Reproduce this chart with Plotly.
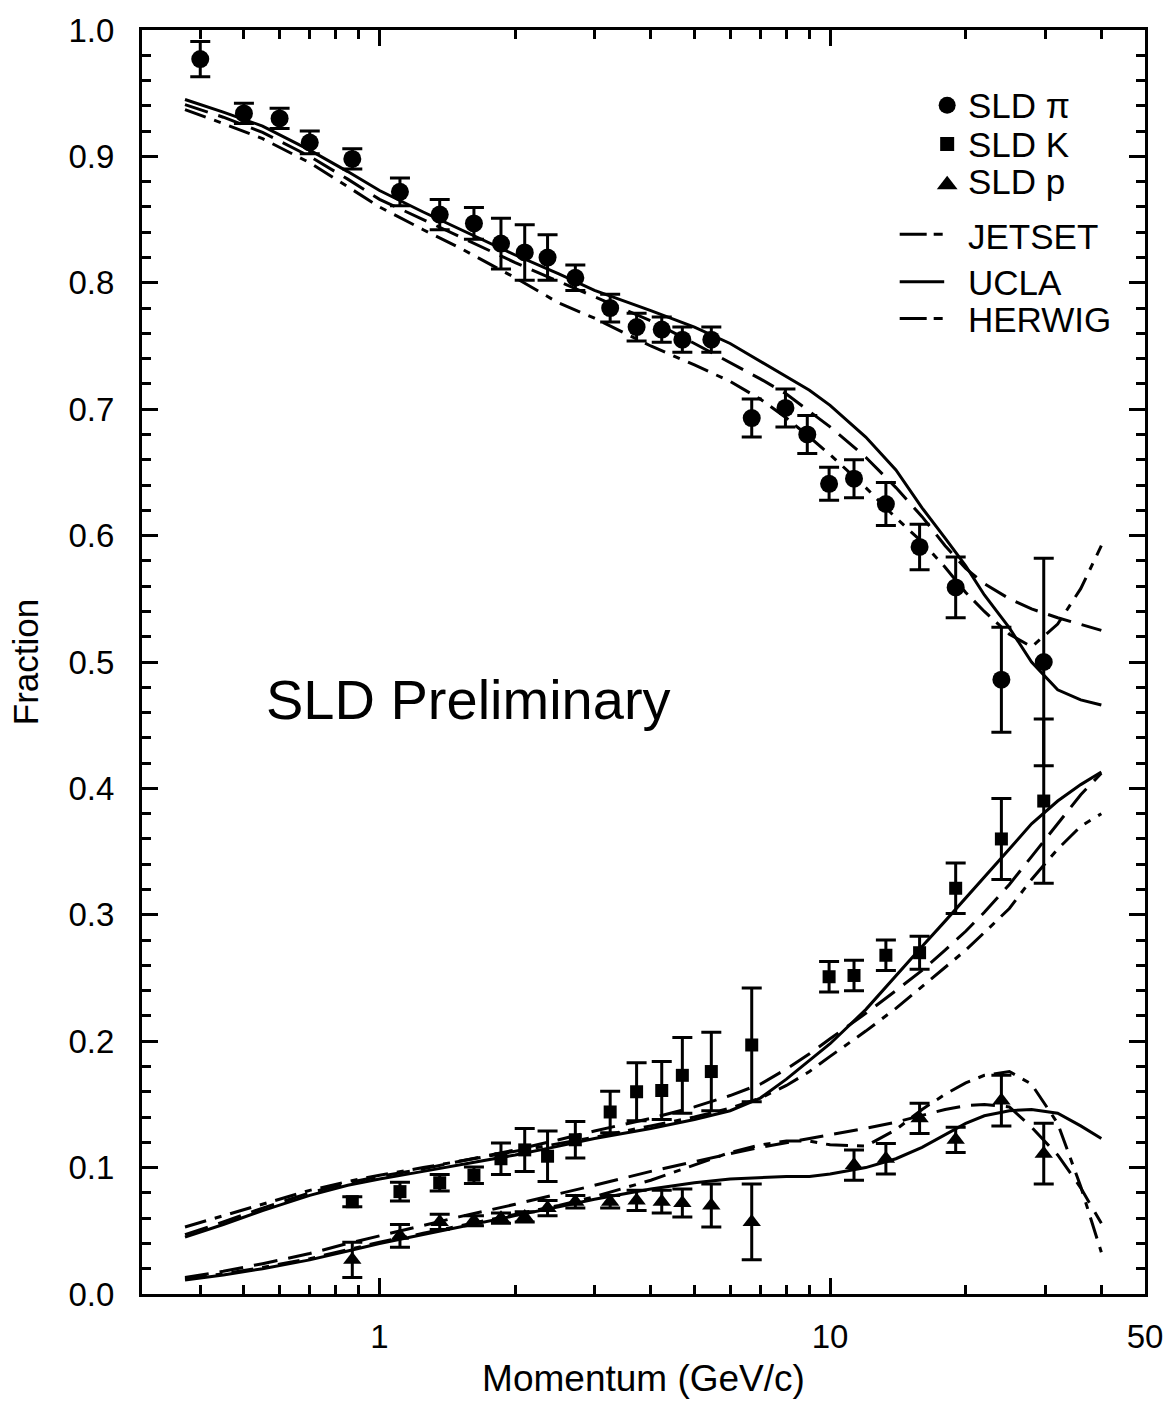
import math
import plotly.graph_objects as go

# ---------------- SLD measured fractions ----------------
# pions
p_pi = [0.40, 0.50, 0.60, 0.70, 0.87, 1.11, 1.36, 1.62, 1.86, 2.10, 2.36, 2.72,
        3.25, 3.72, 4.23, 4.70, 5.45, 6.70, 7.96, 8.90, 9.95, 11.3, 13.3, 15.8,
        19.0, 24.0, 29.8]
frac_pi = [0.977, 0.934, 0.930, 0.911, 0.898, 0.872, 0.854, 0.847, 0.831, 0.824,
           0.820, 0.804, 0.780, 0.765, 0.763, 0.755, 0.755, 0.693, 0.701, 0.680,
           0.641, 0.645, 0.625, 0.591, 0.559, 0.486, 0.500]
err_pi = [0.014, 0.008, 0.008, 0.009, 0.008, 0.011, 0.012, 0.0125, 0.020, 0.022,
          0.018, 0.010, 0.011, 0.011, 0.010, 0.010, 0.010, 0.015, 0.015, 0.015,
          0.013, 0.015, 0.017, 0.018, 0.024, 0.0415, 0.082]

# kaons
p_k = [0.87, 1.11, 1.36, 1.62, 1.86, 2.10, 2.36, 2.72, 3.25, 3.72, 4.23, 4.70,
       5.45, 6.70, 9.95, 11.3, 13.3, 15.8, 19.0, 24.0, 29.8]
frac_k = [0.073, 0.081, 0.088, 0.094, 0.107, 0.114, 0.109, 0.122, 0.144, 0.160,
          0.161, 0.173, 0.176, 0.197, 0.251, 0.252, 0.268, 0.270, 0.321, 0.360,
          0.390]
err_k = [0.004, 0.0075, 0.0065, 0.0065, 0.0125, 0.017, 0.020, 0.0145, 0.0165,
         0.023, 0.023, 0.030, 0.031, 0.045, 0.012, 0.012, 0.012, 0.013, 0.020,
         0.032, 0.065]

# protons
p_pr = [0.87, 1.11, 1.36, 1.62, 1.86, 2.10, 2.36, 2.72, 3.25, 3.72, 4.23, 4.70,
        5.45, 6.70, 11.3, 13.3, 15.8, 19.0, 24.0, 29.8]
frac_pr = [0.027, 0.046, 0.057, 0.058, 0.060, 0.061, 0.068, 0.073, 0.073, 0.074,
           0.073, 0.072, 0.070, 0.057, 0.102, 0.107, 0.139, 0.122, 0.153, 0.111]
err_pr = [0.014, 0.009, 0.006, 0.004, 0.004, 0.004, 0.006, 0.005, 0.005, 0.008,
          0.009, 0.011, 0.017, 0.030, 0.012, 0.012, 0.012, 0.010, 0.020, 0.024]

# ---------------- model predictions ----------------
p_model = [0.37, 0.45, 0.55, 0.7, 0.85, 1.0, 1.25, 1.5, 2.0, 2.5, 3.0, 4.0, 5.0,
           6.0, 7.0, 8.0, 9.0, 10, 12, 14, 16, 18, 20, 22, 25, 28, 32, 36, 40]

pi_jetset = [0.937, 0.926, 0.914, 0.895, 0.876, 0.860, 0.842, 0.828, 0.804, 0.784,
             0.772, 0.750, 0.735, 0.722, 0.708, 0.693, 0.678, 0.664, 0.638, 0.614,
             0.595, 0.575, 0.555, 0.540, 0.522, 0.512, 0.530, 0.558, 0.592]
pi_ucla = [0.945, 0.935, 0.924, 0.905, 0.888, 0.873, 0.856, 0.843, 0.822, 0.807,
           0.794, 0.778, 0.765, 0.752, 0.738, 0.726, 0.715, 0.703, 0.678, 0.652,
           0.622, 0.598, 0.576, 0.553, 0.527, 0.500, 0.478, 0.470, 0.466]
pi_herwig = [0.941, 0.931, 0.919, 0.900, 0.882, 0.866, 0.850, 0.837, 0.816, 0.801,
             0.789, 0.770, 0.752, 0.737, 0.724, 0.712, 0.698, 0.686, 0.662, 0.638,
             0.615, 0.592, 0.574, 0.562, 0.550, 0.542, 0.535, 0.530, 0.525]

k_jetset = [0.053, 0.062, 0.071, 0.082, 0.089, 0.094, 0.100, 0.105, 0.113, 0.119,
            0.124, 0.133, 0.140, 0.147, 0.155, 0.165, 0.176, 0.188, 0.208, 0.226,
            0.243, 0.258, 0.272, 0.286, 0.305, 0.328, 0.352, 0.370, 0.380]
k_ucla = [0.045, 0.055, 0.066, 0.078, 0.086, 0.091, 0.097, 0.102, 0.110, 0.117,
          0.123, 0.131, 0.138, 0.145, 0.155, 0.170, 0.185, 0.198, 0.225, 0.252,
          0.275, 0.295, 0.313, 0.330, 0.352, 0.372, 0.390, 0.403, 0.413]
k_herwig = [0.047, 0.057, 0.068, 0.080, 0.088, 0.093, 0.099, 0.105, 0.114, 0.122,
            0.129, 0.139, 0.148, 0.157, 0.166, 0.178, 0.190, 0.202, 0.222, 0.240,
            0.256, 0.272, 0.287, 0.302, 0.324, 0.346, 0.372, 0.395, 0.412]

pr_jetset = [0.012, 0.016, 0.021, 0.028, 0.035, 0.041, 0.048, 0.054, 0.063, 0.070,
             0.077, 0.090, 0.102, 0.112, 0.118, 0.121, 0.121, 0.118, 0.117, 0.130,
             0.146, 0.158, 0.167, 0.173, 0.176, 0.166, 0.135, 0.085, 0.033]
pr_ucla = [0.011, 0.015, 0.020, 0.027, 0.034, 0.040, 0.047, 0.053, 0.062, 0.069,
           0.075, 0.083, 0.088, 0.091, 0.092, 0.093, 0.093, 0.095, 0.100, 0.107,
           0.116, 0.126, 0.135, 0.141, 0.145, 0.146, 0.143, 0.133, 0.123]
pr_herwig = [0.013, 0.018, 0.024, 0.032, 0.040, 0.046, 0.054, 0.061, 0.071, 0.079,
             0.086, 0.097, 0.105, 0.111, 0.116, 0.120, 0.123, 0.126, 0.131, 0.136,
             0.141, 0.146, 0.149, 0.150, 0.148, 0.132, 0.110, 0.084, 0.056]

# axis ticks
x_major = [1, 10, 50]
x_minor = [0.4, 0.5, 0.6, 0.7, 0.8, 0.9, 2, 3, 4, 5, 6, 7, 8, 9, 20, 30, 40]

FONT = "Liberation Sans, Arial, Helvetica, sans-serif"
INK = "black"
JETSET_DASH = "22px,9px,7px,9px"
HERWIG_DASH = "24px,11px"
KEY_DASH = "27px,7px,9px,30px"
LW = 3

fig = go.Figure()

# model curves
models = [
    (pi_jetset, JETSET_DASH), (pi_ucla, "solid"), (pi_herwig, HERWIG_DASH),
    (k_jetset, JETSET_DASH), (k_ucla, "solid"), (k_herwig, HERWIG_DASH),
    (pr_jetset, JETSET_DASH), (pr_ucla, "solid"), (pr_herwig, HERWIG_DASH),
]
for vals, dash in models:
    fig.add_trace(go.Scatter(
        x=p_model, y=vals, mode="lines",
        line=dict(color=INK, width=LW, dash=dash),
        showlegend=False, hoverinfo="skip"))

# measured points
points = [
    (p_pi, frac_pi, err_pi, "circle", 18),
    (p_k, frac_k, err_k, "square", 13),
    (p_pr, frac_pr, err_pr, "triangle-up", 16),
]
for xs, ys, es, sym, size in points:
    fig.add_trace(go.Scatter(
        x=xs, y=ys, mode="markers",
        marker=dict(symbol=sym, size=size, color=INK, line=dict(width=0)),
        error_y=dict(type="data", array=es, visible=True, color=INK,
                     thickness=3, width=10),
        showlegend=False))

# key: samples drawn on an overlay axis spanning the plot area (0..1)
def px_to_fx(px):
    return (px - 142) / 1014.0

def px_to_fy(py):
    return (1302 - py) / 1275.0

key_marks = [("circle", 17, 103), ("square", 14, 142), ("triangle-up", 18, 183)]
for sym, size, py in key_marks:
    fig.add_trace(go.Scatter(
        x=[px_to_fx(956)], y=[px_to_fy(py)], mode="markers",
        marker=dict(symbol=sym, size=size, color=INK),
        xaxis="x2", yaxis="y2", showlegend=False, hoverinfo="skip"))

key_lines = [(KEY_DASH, 233), ("solid", 281), (KEY_DASH, 318)]
for dash, py in key_lines:
    fig.add_trace(go.Scatter(
        x=[px_to_fx(908), px_to_fx(953)], y=[px_to_fy(py)] * 2, mode="lines",
        line=dict(color=INK, width=LW, dash=dash),
        xaxis="x2", yaxis="y2", showlegend=False, hoverinfo="skip"))

key_text = [("SLD \u03c0", 103), ("SLD K", 142), ("SLD p", 180),
            ("JETSET", 235), ("UCLA", 282), ("HERWIG", 319)]
for txt, py in key_text:
    fig.add_annotation(
        x=px_to_fx(975), y=px_to_fy(py), xref="paper", yref="paper",
        text=txt, showarrow=False, xanchor="left", yanchor="middle",
        font=dict(family=FONT, size=35, color=INK))

fig.add_annotation(
    x=px_to_fx(472), y=px_to_fy(702), xref="paper", yref="paper",
    text="SLD Preliminary", showarrow=False, xanchor="center", yanchor="middle",
    font=dict(family=FONT, size=56, color=INK))

axis_common = dict(
    showline=True, linecolor=INK, linewidth=3, mirror="allticks",
    ticks="inside", tickcolor=INK, tickwidth=3, ticklen=16,
    showgrid=False, zeroline=False,
    tickfont=dict(family=FONT, size=33, color=INK),
)

fig.update_layout(
    width=1175, height=1404,
    margin=dict(l=142, r=19, t=27, b=102),
    paper_bgcolor="white", plot_bgcolor="white",
    font=dict(family=FONT, color=INK),
    xaxis=dict(
        type="log", range=[math.log10(0.297), math.log10(50)],
        tickmode="array", tickvals=x_major, ticktext=[str(v) for v in x_major],
        minor=dict(tickmode="array", tickvals=x_minor, ticks="inside",
                   ticklen=9, tickwidth=3, tickcolor=INK, showgrid=False),
        title=dict(text="Momentum (GeV/c)", standoff=12,
                   font=dict(family=FONT, size=37, color=INK)),
        ticklabelstandoff=11,
        **axis_common),
    yaxis=dict(
        range=[0, 1.0], tickmode="linear", tick0=0, dtick=0.1, tickformat=".1f",
        minor=dict(dtick=0.02, ticks="inside", ticklen=9, tickwidth=3,
                   tickcolor=INK, showgrid=False),
        title=dict(text="Fraction", standoff=20,
                   font=dict(family=FONT, size=35, color=INK)),
        ticklabelstandoff=18,
        **axis_common),
    xaxis2=dict(overlaying="x", range=[0, 1], visible=False, fixedrange=True),
    yaxis2=dict(overlaying="y", range=[0, 1], visible=False, fixedrange=True),
)

fig.write_html("out.html")
